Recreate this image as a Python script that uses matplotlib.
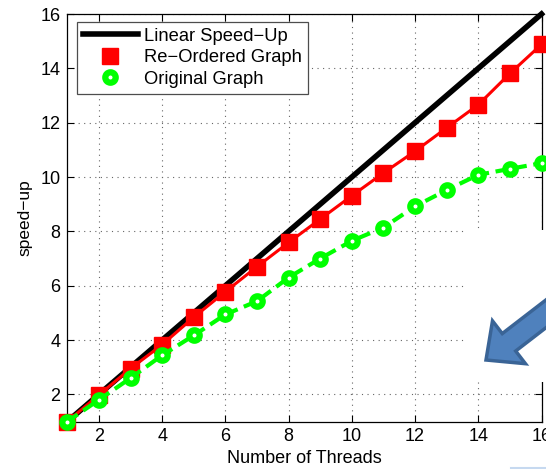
import numpy as np
import matplotlib
matplotlib.use('Agg')
import matplotlib.pyplot as plt
from matplotlib.patches import Rectangle, FancyArrow
from matplotlib.lines import Line2D

# data
threads = [1, 2, 3, 4, 5, 6, 7, 8, 9, 10, 11, 12, 13, 14, 15, 16]
linear = [1, 2, 3, 4, 5, 6, 7, 8, 9, 10, 11, 12, 13, 14, 15, 16]
reordered = [1.0, 1.98, 2.95, 3.83, 4.84, 5.78, 6.70, 7.59, 8.45, 9.31,
             10.15, 10.95, 11.81, 12.66, 13.81, 14.88]
original = [1.0, 1.80, 2.60, 3.44, 4.17, 4.94, 5.43, 6.30, 7.00, 7.65,
            8.14, 8.92, 9.52, 10.08, 10.30, 10.51]
xticks = [2, 4, 6, 8, 10, 12, 14, 16]
yticks = [2, 4, 6, 8, 10, 12, 14, 16]

plt.rcParams['font.family'] = ['Liberation Sans', 'DejaVu Sans']

fig = plt.figure(figsize=(5.46, 4.69), dpi=100)
ax = fig.add_axes([67.4/546, 47.5/469, 474.1/546, 407.5/469])

ax.plot(threads, linear, color='black', lw=4, label='Linear Speed\u2212Up',
        zorder=3, clip_on=False)
ax.plot(threads, reordered, color='red', lw=2.2, marker='s', ms=12,
        label='Re\u2212Ordered Graph', zorder=4, clip_on=False)
ax.plot(threads, original, color='#00ff00', lw=3, ls=(0, (3, 1.6)),
        marker='o', ms=7.5, mfc='white', mec='#00ff00', mew=4.5,
        label='Original Graph', zorder=5, clip_on=False)

ax.set_xlim(1, 16)
ax.set_ylim(1, 16)
ax.set_xticks(xticks)
ax.set_yticks(yticks)
ax.tick_params(direction='in', length=5, width=0.8, top=True, right=True,
               labelsize=13)
ax.tick_params(axis='x', pad=5)
ax.tick_params(axis='y', pad=5)
ax.grid(True, color='0.4', ls=(0, (1, 4)), lw=0.8)
ax.set_xlabel('Number of Threads', fontsize=13, labelpad=3)
ax.set_ylabel('speed\u2212up', fontsize=12.5, labelpad=6)
for s in ax.spines.values():
    s.set_linewidth(0.9)

# legend without the dashes on the green sample
handles = [Line2D([], [], color='black', lw=4),
           Line2D([], [], color='red', ls='none', marker='s', ms=12),
           Line2D([], [], color='#00ff00', ls='none', marker='o', ms=7.5,
                  mfc='white', mec='#00ff00', mew=4.5)]
labels = ['Linear Speed\u2212Up', 'Re\u2212Ordered Graph', 'Original Graph']
leg = ax.legend(handles, labels, loc='upper left', bbox_to_anchor=(0.0196, 0.981),
                borderaxespad=0, fontsize=13.2, handlelength=3.0,
                handletextpad=0.35, labelspacing=0.25, borderpad=0.32,
                fancybox=False, framealpha=1, edgecolor='0.3')
leg.get_frame().set_linewidth(0.9)

# white patch over the lower right of the plot and the blue arrow on it
fig.add_artist(Rectangle((465/546, 87/469), 81/546, 152/469,
                         transform=fig.transFigure, facecolor='white',
                         edgecolor='none', zorder=10))
fig.add_artist(FancyArrow(5.73, 1.76, -0.87, -0.67, width=0.22,
                          head_width=0.54, head_length=0.29,
                          length_includes_head=True,
                          transform=fig.dpi_scale_trans,
                          facecolor='#4f81bd', edgecolor='#3a6496',
                          lw=2.5, zorder=11))
fig.add_artist(Line2D([511/546, 1.0], [1.5/469, 1.5/469],
                      transform=fig.transFigure, color='#c6d9f0', lw=1.5,
                      zorder=11))

fig.savefig('out.png', dpi=100)
